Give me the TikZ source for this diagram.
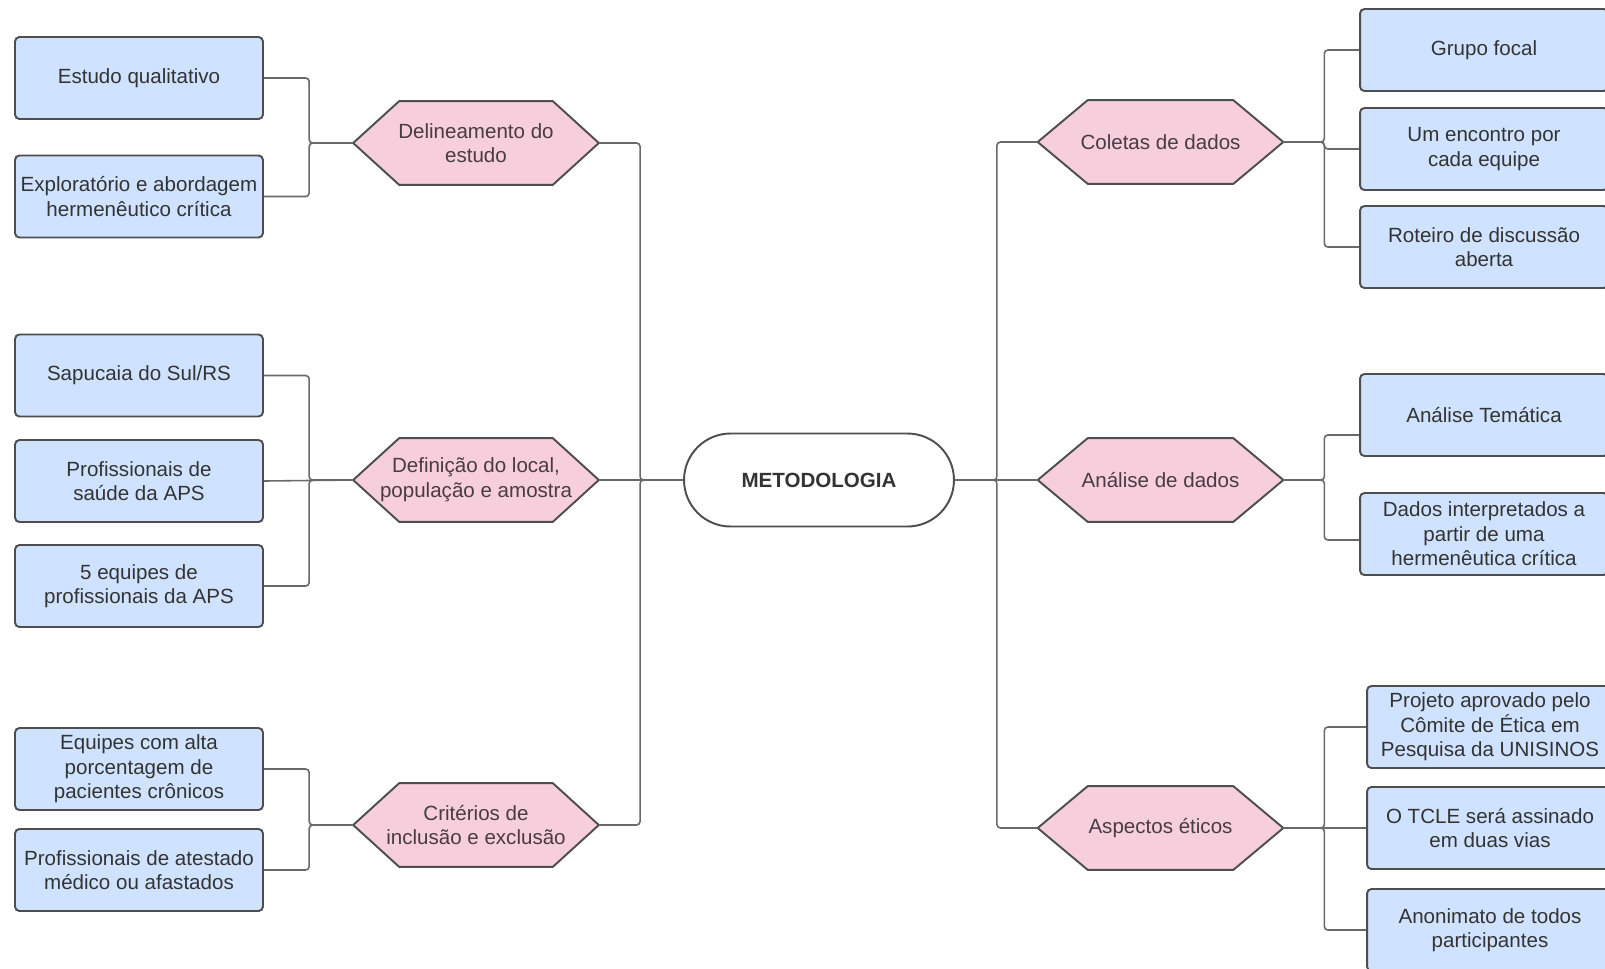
\documentclass[tikz,border=0pt]{standalone}
\usepackage{fontspec}
\setmainfont{Liberation Sans}
\usetikzlibrary{backgrounds}
\definecolor{boxblue}{RGB}{207,226,255}
\definecolor{hexpink}{RGB}{247,206,219}
\definecolor{edge}{RGB}{78,78,78}
\definecolor{wire}{RGB}{105,105,105}
\definecolor{ink}{RGB}{51,51,51}
\definecolor{hexink}{RGB}{72,60,66}
\tikzset{
  leaf/.style={draw=edge, line width=1.1pt, rounded corners=2.5pt, fill=boxblue, align=center,
    text=ink, minimum width=4.96cm, minimum height=1.64cm, inner sep=2pt,
    font=\fontsize{11.7}{14}\selectfont},
  eleaf/.style={leaf, minimum width=4.92cm},
  topic/.style={align=center, text=hexink, minimum width=4.9cm, minimum height=1.66cm,
    inner sep=0pt, font=\fontsize{11.7}{14}\selectfont},
  hexline/.style={draw=edge, line width=1.1pt, fill=hexpink, line join=round},
  root/.style={draw=edge, line width=1.1pt, rounded corners=0.93cm, fill=white, text=ink,
    minimum width=5.4cm, minimum height=1.86cm, font=\fontsize{11.7}{14}\selectfont\bfseries},
  link/.style={draw=wire, line width=0.9pt, rounded corners=2pt}
}

\begin{document}
\begin{tikzpicture}[x=0.02cm, y=-0.02cm]
  \useasboundingbox (0,0) rectangle (1605,968);
  \clip (0,0) rectangle (1605,968);

  % centre
  \node[root] (meto) at (819,480) {METODOLOGIA};

  % left topics
  \node[topic] (h1) at (476,143) {Delineamento do\\estudo};
  \node[topic] (h2) at (476,480) {Definição do local,\\população e amostra};
  \node[topic] (h3) at (476,825) {Critérios de\\inclusão e exclusão};

  % right topics
  \node[topic] (c1) at (1160.5,142) {Coletas de dados};
  \node[topic] (c2) at (1160.5,480) {Análise de dados};
  \node[topic] (c3) at (1160.5,828) {Aspectos éticos};

  \begin{scope}[on background layer]
    \fill[white] (0,0) rectangle (1605,968);
    \foreach \h/\d in {h1/0.92cm,h2/0.92cm,h3/0.92cm,c1/1cm,c2/1cm,c3/1cm}
      \draw[hexline] ([xshift=\d]\h.north west) -- ([xshift=-\d]\h.north east) -- (\h.east)
        -- ([xshift=-\d]\h.south east) -- ([xshift=\d]\h.south west) -- (\h.west) -- cycle;
  \end{scope}

  % left leaves
  \node[leaf] (l1) at (139,78) {Estudo qualitativo};
  \node[leaf] (l2) at (139,196.5) {Exploratório e abordagem\\hermenêutico crítica};
  \node[leaf] (l3) at (139,375.5) {Sapucaia do Sul/RS};
  \node[leaf] (l4) at (139,481) {Profissionais de\\saúde da APS};
  \node[leaf] (l5) at (139,586) {5 equipes de\\profissionais da APS};
  \node[leaf] (l6) at (139,769) {Equipes com alta\\porcentagem de\\pacientes crônicos};
  \node[leaf] (l7) at (139,870) {Profissionais de atestado\\médico ou afastados};

  % right leaves
  \node[leaf] (r1) at (1484,50) {Grupo focal};
  \node[leaf] (r2) at (1484,149) {Um encontro por\\cada equipe};
  \node[leaf] (r3) at (1484,247) {Roteiro de discussão\\aberta};
  \node[leaf] (r4) at (1484,415) {Análise Temática};
  \node[leaf] (r5) at (1484,534) {Dados interpretados a\\partir de uma\\hermenêutica crítica};
  \node[eleaf] (r6) at (1490,727) {Projeto aprovado pelo\\Cômite de Ética em\\Pesquisa da UNISINOS};
  \node[eleaf] (r7) at (1490,828) {O TCLE será assinado\\em duas vias};
  \node[eleaf] (r8) at (1490,930) {Anonimato de todos\\participantes};

  % spines
  \draw[link] (meto.west) -- ++(-43,0) |- (h1.east);
  \draw[link] (meto.west) -- (h2.east);
  \draw[link] (meto.west) -- ++(-43,0) |- (h3.east);
  \draw[link] (meto.east) -- ++(42,0) |- (c1.west);
  \draw[link] (meto.east) -- (c2.west);
  \draw[link] (meto.east) -- ++(42,0) |- (c3.west);

  % left brackets
  \draw[link] (h1.west) -- ++(-44,0) |- (l1.east);
  \draw[link] (h1.west) -- ++(-44,0) |- (l2.east);
  \draw[link] (h2.west) -- ++(-44,0) |- (l3.east);
  \draw[link] (h2.west) -- (l4.east);
  \draw[link] (h2.west) -- ++(-44,0) |- (l5.east);
  \draw[link] (h3.west) -- ++(-44,0) |- (l6.east);
  \draw[link] (h3.west) -- ++(-44,0) |- (l7.east);

  % right brackets
  \draw[link] (c1.east) -- ++(41,0) |- (r1.west);
  \draw[link] (c1.east) -- ++(41,0) |- (r2.west);
  \draw[link] (c1.east) -- ++(41,0) |- (r3.west);
  \draw[link] (c2.east) -- ++(41,0) |- ([yshift=-0.4cm]r4.west);
  \draw[link] (c2.east) -- ++(41,0) |- ([yshift=-0.12cm]r5.west);
  \draw[link] (c3.east) -- ++(41,0) |- (r6.west);
  \draw[link] (c3.east) -- (r7.west);
  \draw[link] (c3.east) -- ++(41,0) |- (r8.west);
\end{tikzpicture}
\end{document}
